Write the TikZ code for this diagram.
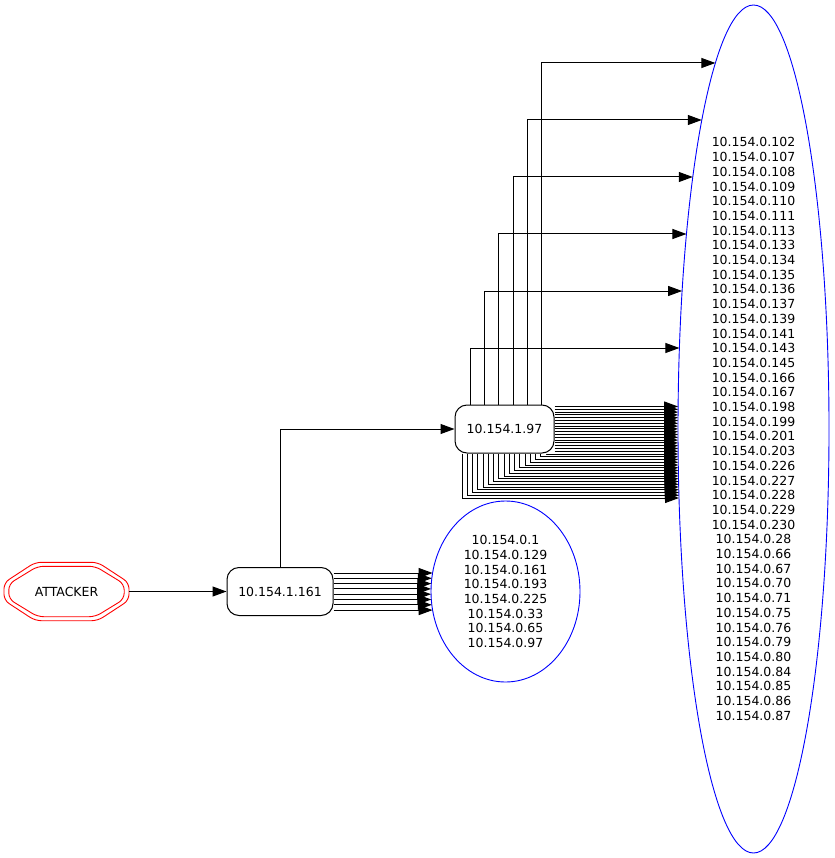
\documentclass[tikz,border=0pt]{standalone}
\usepackage{fontspec}
\setmainfont{DejaVu Sans}
\usetikzlibrary{arrows.meta,calc,shapes.geometric}

\begin{document}
\begin{tikzpicture}[x=1pt, y=-1pt,
        font=\fontsize{12.5}{14.7}\selectfont,
        edge/.style={-{Triangle[length=14pt,width=10pt]}, line width=1pt},
        hop/.style={draw, line width=1pt, rounded corners=12pt, inner sep=0pt, minimum height=48pt},
        subnet/.style={draw=blue, line width=0.9pt, ellipse, inner sep=0pt, align=center}]
    \useasboundingbox (0,0) rectangle (834,858);

    % attacker
    \node[minimum width=125pt, minimum height=58pt] (attacker) at (66.5,591.5) {ATTACKER};
    \begin{scope}[shift={(attacker.center)}]
        \foreach \a/\b in {62.5/29.2, 57.7/25.2}{
            \draw[red, line width=0.9pt, rounded corners=6pt]
                ({\a},{0.3*\b}) -- ({0.5*\a},{\b}) -- ({-0.5*\a},{\b}) -- ({-\a},{0.3*\b})
                -- ({-\a},{-0.3*\b}) -- ({-0.5*\a},{-\b}) -- ({0.5*\a},{-\b}) -- ({\a},{-0.3*\b}) -- cycle;
        }
    \end{scope}

    % hops
    \node[hop, minimum width=106pt] (h161) at (280,591.5) {10.154.1.161};
    \node[hop, minimum width=99pt] (h97) at (504.5,429) {10.154.1.97};

    % subnets
    \node[subnet, minimum width=149pt, minimum height=181pt] (grpA) at (505.5,591.5)
        {10.154.0.1\\10.154.0.129\\10.154.0.161\\10.154.0.193\\10.154.0.225\\10.154.0.33\\10.154.0.65\\10.154.0.97};
    \node[subnet, minimum width=151pt, minimum height=848pt] (grpB) at (753.5,429)
        {10.154.0.102\\10.154.0.107\\10.154.0.108\\10.154.0.109\\10.154.0.110\\10.154.0.111\\10.154.0.113\\10.154.0.133\\
         10.154.0.134\\10.154.0.135\\10.154.0.136\\10.154.0.137\\10.154.0.139\\10.154.0.141\\10.154.0.143\\10.154.0.145\\
         10.154.0.166\\10.154.0.167\\10.154.0.198\\10.154.0.199\\10.154.0.201\\10.154.0.203\\10.154.0.226\\10.154.0.227\\
         10.154.0.228\\10.154.0.229\\10.154.0.230\\10.154.0.28\\10.154.0.66\\10.154.0.67\\10.154.0.70\\10.154.0.71\\
         10.154.0.75\\10.154.0.76\\10.154.0.79\\10.154.0.80\\10.154.0.84\\10.154.0.85\\10.154.0.86\\10.154.0.87};

    % attacker -> first hop -> second hop
    \draw[edge] (attacker) -- (h161);
    \draw[edge] (h161.north) |- (h97.west);

    % h161 -> grpA
    \foreach \i in {0,...,7}{
        \pgfmathsetmacro\dy{-18.5+5.3*\i}
        \pgfmathsetmacro\ex{-74.5*sqrt(1-(\dy/90.5)^2)}
        \draw[edge] ($(h161.east)+(0,\dy)$) -- ($(grpA.center)+(\ex,\dy)$);
    }

    % h97 -> grpB, over the top
    \foreach \k in {0,...,5}{
        \pgfmathsetmacro\dx{-34.5+14.35*\k}
        \pgfmathsetmacro\dy{-81-57*\k}
        \pgfmathsetmacro\ex{-75.5*sqrt(1-(\dy/424)^2)}
        \draw[edge] ($(h97.north)+(\dx,0)$) |- ($(grpB.center)+(\ex,\dy)$);
    }

    % h97 -> grpB, straight across
    \foreach \j in {0,...,16}{
        \pgfmathsetmacro\dy{-22.5+2.8*\j}
        \pgfmathsetmacro\ex{-75.5*sqrt(1-(\dy/424)^2)}
        \draw[edge] ($(h97.east)+(0,\dy)$) -- ($(grpB.center)+(\ex,\dy)$);
    }

    % h97 -> grpB, underneath
    \foreach \k in {0,...,16}{
        \pgfmathsetmacro\dx{41.5-5.25*\k}
        \pgfmathsetmacro\dy{25+2.75*\k}
        \pgfmathsetmacro\ex{-75.5*sqrt(1-(\dy/424)^2)}
        \draw[edge] ($(h97.south)+(\dx,0)$) |- ($(grpB.center)+(\ex,\dy)$);
    }
\end{tikzpicture}
\end{document}
